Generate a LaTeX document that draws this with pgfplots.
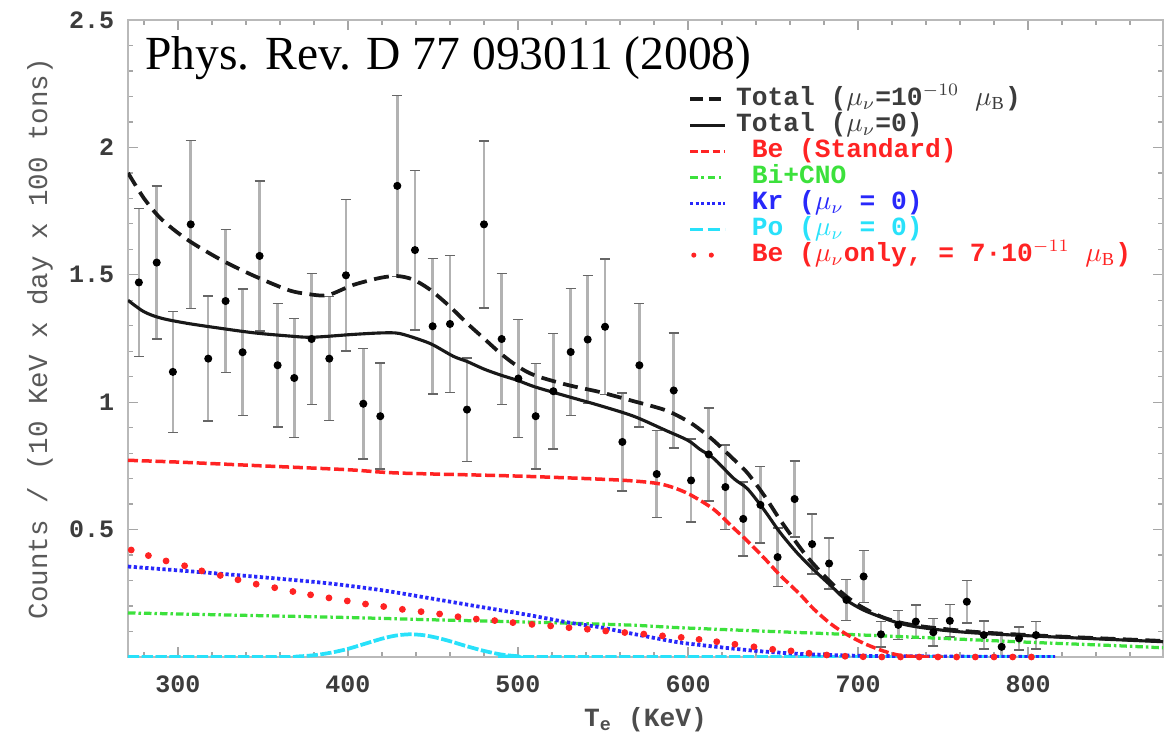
\documentclass[border=0pt]{standalone}
\usepackage{fontspec}
\setmainfont{Liberation Serif}
\newfontfamily\mono{Liberation Mono}
\usepackage{pgfplots}
\pgfplotsset{compat=1.18}
\usepackage{pgfplotstable}

\definecolor{cR}{RGB}{255,35,35}
\definecolor{cG}{RGB}{60,225,60}
\definecolor{cB}{RGB}{40,40,250}
\definecolor{cC}{RGB}{40,225,250}
\definecolor{cK}{RGB}{25,25,25}
\definecolor{cT}{RGB}{60,60,60}

\pgfplotstableread{
x y e
277.0 1.470 0.290
287.5 1.548 0.300
297.0 1.119 0.237
307.5 1.698 0.330
317.8 1.171 0.245
328.0 1.397 0.280
338.0 1.196 0.248
348.0 1.574 0.295
358.6 1.145 0.242
368.4 1.095 0.233
378.6 1.248 0.257
389.0 1.171 0.243
398.8 1.498 0.298
409.0 0.994 0.217
419.0 0.945 0.208
429.0 1.849 0.355
439.4 1.597 0.313
449.8 1.298 0.266
460.0 1.307 0.268
470.0 0.971 0.203
480.0 1.698 0.328
490.4 1.248 0.257
500.2 1.093 0.232
510.4 0.945 0.207
520.8 1.043 0.226
531.0 1.197 0.249
541.0 1.246 0.251
551.2 1.296 0.266
561.4 0.844 0.192
571.4 1.145 0.242
581.6 0.718 0.171
591.6 1.046 0.226
601.8 0.693 0.163
612.2 0.795 0.183
622.0 0.667 0.166
632.5 0.542 0.145
642.6 0.597 0.150
652.7 0.392 0.115
662.7 0.620 0.149
673.0 0.443 0.118
683.0 0.367 0.100
693.2 0.224 0.081
703.3 0.316 0.102
713.5 0.089 0.050
723.7 0.126 0.057
734.0 0.139 0.066
744.3 0.097 0.054
754.0 0.142 0.064
764.0 0.217 0.083
774.0 0.086 0.055
784.5 0.040 0.045
794.7 0.073 0.045
804.7 0.086 0.054
}\datapts

\begin{document}
\begin{tikzpicture}
\path[use as bounding box] (-51.2pt,-31.6pt) rectangle (419.2pt,262.8pt);
\begin{axis}[
  scale only axis, width=414pt, height=254.8pt,
  xmin=270.6, xmax=879.4, ymin=0, ymax=2.5,
  xtick={300,400,...,800},
  minor xtick={280,300,...,880},
  ytick={0.5,1,1.5,2,2.5},
  minor ytick={0,0.1,...,2.5},
  tick align=inside,
  major tick length=4pt, minor tick length=2pt,
  axis line style={color=gray!55, line width=0.7pt},
  tick style={color=gray!70, line width=0.5pt},
  /pgf/number format/assume math mode=true,
  ticklabel style={font=\mono\bfseries\fontsize{10}{12}\selectfont, text=cT},
  xticklabel style={yshift=-4pt},
  yticklabel style={xshift=-2pt},
  ylabel={Counts / (10 KeV x day x 100 tons)},
  ylabel style={at={(axis description cs:-0.085,0.5)}, anchor=center, font=\mono\fontsize{11}{13}\selectfont, text=black!65},
  xlabel={T\textsubscript{e} (KeV)},
  xlabel style={at={(axis description cs:0.5,-0.099)}, anchor=center, font=\mono\bfseries\fontsize{10.5}{12}\selectfont, text=black!70},
  legend cell align=left,
  legend style={at={(rel axis cs:0.541,0.897)}, anchor=north west, draw=none, fill=none, inner sep=0pt, row sep=0pt,
    nodes={inner sep=0.8pt, text height=6.9pt, text depth=1.9pt},
    /tikz/every odd column/.style={column sep=3pt},
    font=\mono\bfseries\fontsize{10.5}{12}\selectfont},
]

% data with error bars
\addplot[only marks, mark=*, mark size=1.4pt, color=black, forget plot,
  error bars/.cd, y dir=both, y explicit,
  error bar style={color=gray!60, line width=1pt},
  error mark options={rotate=90, mark size=2pt, line width=0.6pt, color=black!60}]
  table[x=x, y=y, y error=e]{\datapts};

% Cyan Po
\addplot[cC, line width=1.5pt, dash pattern=on 4.5pt off 1pt, smooth, forget plot] coordinates {
(270.6,0) (360,0) (370,0.002) (380,0.007) (390,0.017) (400,0.032) (410,0.052) (420,0.072) (428,0.084) (436,0.089) (444,0.086) (452,0.076) (460,0.062) (470,0.042) (480,0.024) (490,0.010) (500,0.003) (510,0) (815,0)};

% Green Bi+CNO
\addplot[cG, line width=1.3pt, dash pattern=on 3pt off 1.2pt on 1pt off 1.2pt, smooth, forget plot] coordinates {
(270.6,0.173) (350,0.162) (400,0.155) (450,0.146) (500,0.138) (563,0.126) (595,0.115) (650,0.100) (700,0.087) (750,0.073) (800,0.058) (850,0.045) (879.4,0.036)};

% Blue Kr
\addplot[cB, line width=1.5pt, dash pattern=on 1.3pt off 1pt, smooth, forget plot] coordinates {
(270.6,0.355) (300,0.340) (330,0.324) (360,0.307) (390,0.288) (420,0.262) (447,0.232) (475,0.200) (506,0.165) (530,0.135) (548,0.117) (563,0.097) (580,0.075) (595,0.057) (610,0.045) (625,0.034) (640,0.024) (654,0.017) (670,0.011) (700,0.005) (750,0.002) (816,0)};

% Red dots Be mu only
\addplot[only marks, mark=*, mark size=1.15pt, color=cR, forget plot] coordinates {
(272.5,0.420) (282.6,0.398) (293,0.377) (303.9,0.358) (314,0.338) (324.9,0.320) (335.3,0.303) (346,0.286) (356.9,0.272) (367.6,0.257) (378,0.244) (388.8,0.232) (399.6,0.220) (410.3,0.208) (421,0.198) (432,0.187) (443,0.178) (453.9,0.169) (464.7,0.158) (475.5,0.149) (486.3,0.143) (497,0.135) (508.2,0.128) (519.2,0.122) (530,0.115) (540.8,0.109) (551.6,0.102) (562.8,0.096) (574,0.090) (585,0.083) (596,0.077) (606.5,0.069) (616.9,0.060) (627.6,0.050) (638.8,0.040) (649.8,0.030) (660.6,0.024) (671.2,0.015) (681.6,0.008) (692.4,0.003) (703,0.001) (714,0) (725,0) (736,0) (747,0) (758,0) (769,0) (780,0) (791,0) (802,0)};

% Red dashed Be standard
\addplot[cR, line width=1.4pt, dash pattern=on 4pt off 1.5pt, smooth, forget plot] coordinates {
(270.6,0.772) (300,0.765) (350,0.750) (400,0.735) (430,0.722) (500,0.710) (558,0.695) (580,0.683) (590,0.668) (601,0.638) (615,0.580) (627,0.505) (635,0.455) (646,0.380) (654,0.322) (666,0.245) (674,0.188) (684,0.130) (693,0.090) (703,0.055) (713,0.028) (722,0.010) (730,0.003) (740,0) (750,0)};

% Total solid
\addplot[cK, line width=1.25pt, smooth, forget plot] coordinates {
(270.6,1.400) (280,1.355) (290,1.330) (305,1.310) (325,1.290) (345,1.272) (365,1.260) (379,1.255) (403,1.266) (420,1.272) (430,1.270) (442,1.246) (450,1.225) (462,1.180) (470,1.160) (480,1.130) (490,1.106) (500,1.085) (510,1.060) (529,1.023) (548,0.987) (568,0.945) (587,0.889) (600,0.850) (607,0.815) (615,0.780) (627,0.700) (635,0.660) (645,0.575) (654,0.490) (664,0.410) (674,0.342) (684,0.280) (693,0.224) (703,0.185) (713,0.158) (723,0.135) (733,0.120) (750,0.105) (772,0.093) (811,0.080) (879.4,0.060)};

% Total dashed
\addplot[cK, line width=1.5pt, dash pattern=on 6pt off 3pt, smooth, forget plot] coordinates {
(270.6,1.900) (280,1.800) (290,1.720) (305,1.640) (325,1.560) (345,1.495) (365,1.440) (376,1.425) (388,1.420) (403,1.460) (419,1.488) (429,1.495) (438,1.482) (448,1.443) (460,1.375) (470,1.310) (480,1.250) (490,1.190) (500,1.140) (510,1.105) (529,1.068) (548,1.040) (568,1.004) (587,0.968) (600,0.925) (607,0.893) (615,0.850) (627,0.775) (635,0.722) (645,0.632) (654,0.540) (662,0.465) (670,0.394) (680,0.320) (690,0.255) (700,0.205) (713,0.160) (725,0.135) (740,0.118) (770,0.098) (810,0.083) (879.4,0.063)};

\node[anchor=base west, font=\fontsize{19}{22}\selectfont, inner sep=0pt] at ([xshift=6.8pt,yshift=-20pt]rel axis cs:0,1) {Phys. Rev. D 77 093011 (2008)};

% legend
\addlegendimage{legend image code/.code={\draw[cK, line width=1.3pt, dash pattern=on 5pt off 2.5pt] (0pt,0pt) -- (14pt,0pt);}}
\addlegendentry{\textcolor{cT}{Total ($\mu_\nu$=10$^{-10}$ $\mu_{\mathrm B}$)}}
\addlegendimage{legend image code/.code={\draw[cK, line width=1.2pt] (0pt,0pt) -- (14pt,0pt);}}
\addlegendentry{\textcolor{cT}{Total ($\mu_\nu$=0)}}
\addlegendimage{legend image code/.code={\draw[cR, line width=1.2pt, dash pattern=on 3pt off 1.5pt] (0pt,0pt) -- (14pt,0pt);}}
\addlegendentry{\textcolor{cR}{\hphantom{x}Be (Standard)}}
\addlegendimage{legend image code/.code={\draw[cG, line width=1.2pt, dash pattern=on 3pt off 1.5pt on 1pt off 1.5pt] (0pt,0pt) -- (14pt,0pt);}}
\addlegendentry{\textcolor{cG}{\hphantom{x}Bi+CNO}}
\addlegendimage{legend image code/.code={\draw[cB, line width=1.2pt, dash pattern=on 1.2pt off 1pt] (0pt,0pt) -- (14pt,0pt);}}
\addlegendentry{\textcolor{cB}{\hphantom{x}Kr ($\mu_\nu$ = 0)}}
\addlegendimage{legend image code/.code={\draw[cC, line width=1.2pt, dash pattern=on 5pt off 2pt] (0pt,0pt) -- (14pt,0pt);}}
\addlegendentry{\textcolor{cC}{\hphantom{x}Po ($\mu_\nu$ = 0)}}
\addlegendimage{legend image code/.code={\fill[cR] (1.5pt,0pt) circle (0.8pt); \fill[cR] (8.5pt,0pt) circle (0.8pt);}}
\addlegendentry{\textcolor{cR}{\hphantom{x}Be ($\mu_\nu$only, = 7·10$^{-11}$ $\mu_{\mathrm B}$)}}
\end{axis}
\end{tikzpicture}
\end{document}
